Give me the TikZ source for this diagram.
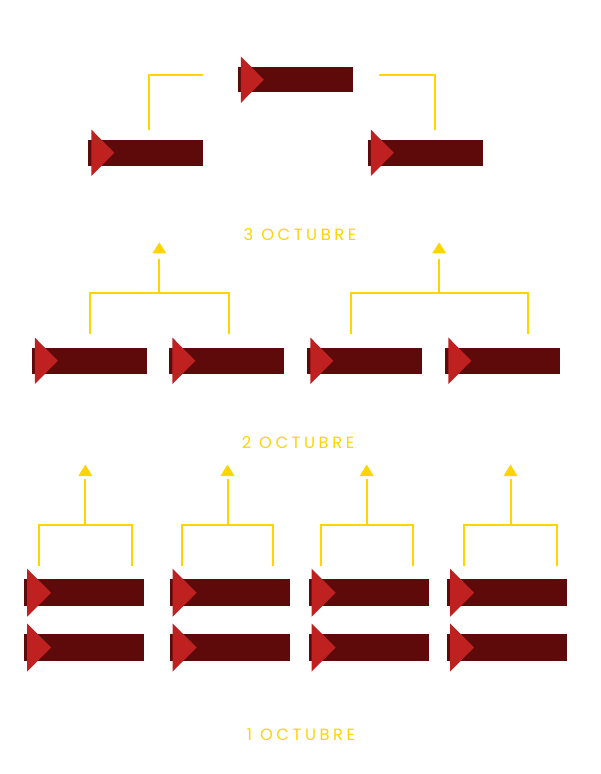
\documentclass[tikz,border=0pt]{standalone}
\usepackage{fontspec}
\usepackage{tikz}
\usetikzlibrary{calc}
\newfontfamily\labfont[LetterSpace=22]{Poppins}
\definecolor{bardark}{HTML}{5E0A0B}
\definecolor{tipred}{HTML}{BF2121}
\definecolor{linkgold}{HTML}{FFD400}
\tikzset{
  bar/.style={fill=bardark, inner sep=0pt, minimum width=115pt, minimum height=25.5pt},
  widebar/.style={bar, minimum width=120pt, minimum height=27pt},
  link/.style={draw=linkgold, line width=2pt},
  head/.style={fill=linkgold},
  lab/.style={text=linkgold, font=\labfont\fontsize{16.3}{18}\selectfont, inner sep=0pt}
}

\begin{document}
\begin{tikzpicture}[x=1pt,y=-1pt]
        \useasboundingbox (0,0) rectangle (600,774);
        % final
        \node[bar] (top) at (295,79.7) {};
        \node[bar] (semiL) at (145.5,152.8) {};
        \node[bar] (semiR) at (425,152.8) {};
        \draw[link] ($(semiL.north)+(3.5,-10)$) |- ($(top.west)+(-34,-4.5)$);
        \draw[link] ($(top.east)+(26,-5)$) -| ($(semiR.north)+(9.5,-10)$);
        \node[lab] (l3) at (300,235) {3 OCTUBRE};
        % semifinals
        \foreach \i/\x in {1/89,2/226.5,3/364.5,4/502.5}
          \node[bar] (q\i) at (\x,360.8) {};
        \foreach \j/\a/\b/\da/\db in {1/q1/q2/0.7/2.5, 2/q3/q4/-14/25.3}{
          \coordinate (j\j) at ($($(\a.north)+(\da,0)$)!0.5!($(\b.north)+(\db,0)$)+(0,-54.5)$);
          \draw[link] ($(\a.north)+(\da,-13.5)$) |- (j\j) -| ($(\b.north)+(\db,-13.5)$);
          \draw[link] (j\j) -- ++(0,-34);
          \fill[head] ($(j\j)+(0,-51)$) -- ++(7,11) -- ++(-14,0) -- cycle;
        }
        \node[lab] (l2) at (298,443) {2 OCTUBRE};
        % first round
        \foreach \i/\x/\dl/\dr in {1/84/-45/47.7, 2/229.5/-47.8/43.8, 3/368.5/-47.8/44.2, 4/507/-42.7/49.7}{
          \node[widebar] (ra\i) at (\x,592.7) {};
          \node[widebar] (rb\i) at (\x,647.5) {};
          \coordinate (k\i) at ($(ra\i.north)+({(\dl+\dr)/2},-54.5)$);
          \draw[link] ($(ra\i.north)+(\dl,-13)$) |- (k\i) -| ($(ra\i.north)+(\dr,-13)$);
          \draw[link] (k\i) -- ++(0,-45.5);
          \fill[head] ($(k\i)+(0,-60)$) -- ++(7,11.5) -- ++(-14,0) -- cycle;
        }
        \node[lab] (l1) at (301,735) {1 OCTUBRE};
        % red tips
        \foreach \n in {top,semiL,semiR,q1,q2,q3,q4}
          \fill[tipred] ($(\n.west)+(3.5,-23.3)$) -- ($(\n.west)+(26.5,0)$) -- ($(\n.west)+(3.5,23.3)$) -- cycle;
        \foreach \n in {ra1,ra2,ra3,ra4,rb1,rb2,rb3,rb4}
          \fill[tipred] ($(\n.west)+(3.3,-24)$) -- ($(\n.west)+(27.3,0)$) -- ($(\n.west)+(3.3,24)$) -- cycle;
\end{tikzpicture}
\end{document}
